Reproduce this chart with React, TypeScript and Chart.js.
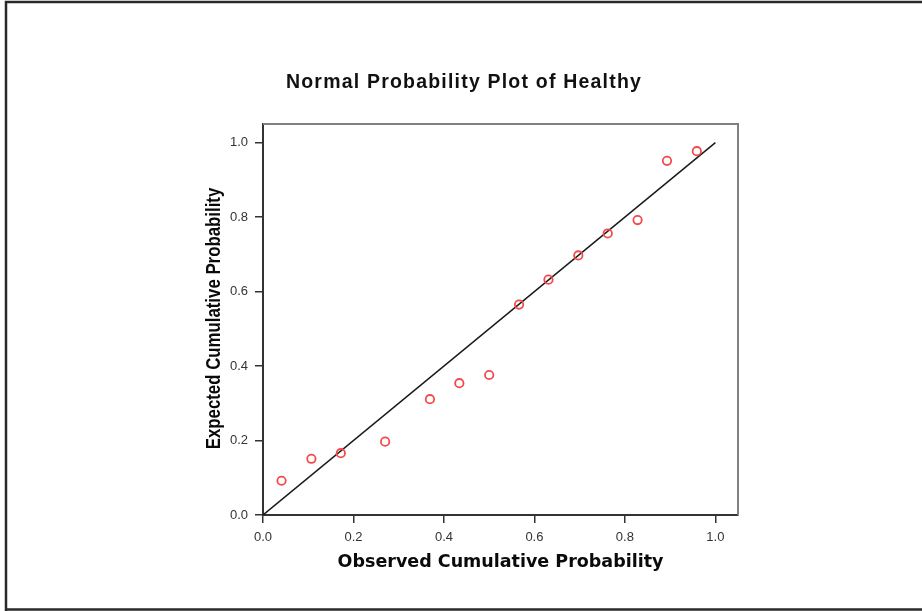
import { useEffect, useRef } from "react";
import { Chart, registerables } from "chart.js";

Chart.register(...registerables);

// Text
const chartTitle = "Normal Probability Plot of Healthy";
const xAxisTitle = "Observed Cumulative Probability";
const yAxisTitle = "Expected Cumulative Probability";

// Observed vs expected cumulative probabilities
const observedProb = [0.041, 0.107, 0.172, 0.27, 0.369, 0.434, 0.5, 0.566, 0.631, 0.697, 0.762, 0.828, 0.893, 0.959];
const expectedProb = [0.092, 0.151, 0.166, 0.197, 0.311, 0.354, 0.376, 0.565, 0.632, 0.697, 0.756, 0.792, 0.951, 0.977];

// Diagonal reference line
const refLineX = [0, 1];
const refLineY = [0, 1];

// Axis settings
const axisMin = 0;
const axisMax = 1.05;
const tickStep = 0.2;

const W = 922;
const H = 611;

const framePlugin = {
  id: "frameAndTitle",
  beforeDraw(chart: any) {
    const ctx = chart.ctx;
    ctx.save();
    ctx.fillStyle = "#ffffff";
    ctx.fillRect(0, 0, chart.width, chart.height);
    ctx.restore();
  },
  afterDraw(chart: any) {
    const { ctx, chartArea: a } = chart;
    ctx.save();
    // outer border (left, top, bottom)
    ctx.strokeStyle = "#2a2a2a";
    ctx.lineWidth = 2.5;
    ctx.beginPath();
    ctx.moveTo(6, H);
    ctx.lineTo(6, 2);
    ctx.lineTo(W, 2);
    ctx.moveTo(6, 609.5);
    ctx.lineTo(W, 609.5);
    ctx.stroke();
    // top and right edges of the plot frame
    ctx.strokeStyle = "#808080";
    ctx.lineWidth = 2;
    ctx.beginPath();
    ctx.moveTo(a.left, a.top);
    ctx.lineTo(a.right, a.top);
    ctx.lineTo(a.right, a.bottom);
    ctx.stroke();
    // chart title
    ctx.font = 'bold 19.5px "Liberation Sans", Arial, sans-serif';
    (ctx as any).letterSpacing = "1.2px";
    ctx.textAlign = "center";
    ctx.textBaseline = "alphabetic";
    ctx.fillStyle = "#111111";
    ctx.fillText(chartTitle, chart.width / 2 + 3, 88);
    ctx.restore();

    // vertical axis title, narrow bold face
    ctx.save();
    ctx.translate(220, (a.top + a.bottom) / 2 - 1);
    ctx.rotate(-Math.PI / 2);
    ctx.scale(0.82, 1);
    ctx.font = 'bold 20.5px "Liberation Sans", Arial, sans-serif';
    ctx.textAlign = "center";
    ctx.textBaseline = "alphabetic";
    ctx.fillStyle = "#0a0a0a";
    ctx.fillText(yAxisTitle, 0, 0);
    ctx.restore();
  },
};

export default function App() {
  const canvasRef = useRef<HTMLCanvasElement | null>(null);

  useEffect(() => {
    const canvas = canvasRef.current;
    if (!canvas) return;

    const points = observedProb.map((x, i) => ({ x, y: expectedProb[i] }));
    const line = refLineX.map((x, i) => ({ x, y: refLineY[i] }));

    const tickFont = { family: '"Liberation Sans", Arial, sans-serif', size: 13 };

    const chart = new Chart(canvas, {
      type: "scatter",
      data: {
        datasets: [
          {
            type: "line",
            data: line,
            borderColor: "#1a1a1a",
            borderWidth: 1.5,
            pointRadius: 0,
            fill: false,
            order: 2,
          } as any,
          {
            type: "scatter",
            data: points,
            pointStyle: "circle",
            pointRadius: 4.2,
            pointBorderWidth: 1.8,
            pointBorderColor: "#f24a4a",
            pointBackgroundColor: "rgba(0,0,0,0)",
            borderColor: "#f24a4a",
            backgroundColor: "rgba(0,0,0,0)",
            order: 1,
          } as any,
        ],
      },
      options: {
        responsive: false,
        animation: false,
        devicePixelRatio: 1,
        layout: { padding: { left: 195, right: 184, top: 124, bottom: 38 } },
        plugins: {
          legend: { display: false },
          title: { display: false },
          tooltip: { enabled: false },
        },
        scales: {
          x: {
            type: "linear",
            position: "bottom",
            min: axisMin,
            max: axisMax,
            ticks: {
              stepSize: tickStep,
              includeBounds: false,
              padding: 7,
              font: tickFont,
              color: "#333333",
              callback: (v: any) => Number(v).toFixed(1),
            },
            grid: { display: true, drawOnChartArea: false, drawTicks: true, tickLength: 8, color: "#333333", lineWidth: 1.5 },
            border: { display: true, color: "#333333", width: 2 },
            title: {
              display: true,
              text: xAxisTitle,
              color: "#0a0a0a",
              padding: 0,
              font: { family: '"DejaVu Sans", Verdana, sans-serif', size: 17.5, weight: "bold" },
            },
            afterFit: (s: any) => {
              s.height = 58;
            },
          },
          y: {
            type: "linear",
            position: "left",
            min: axisMin,
            max: axisMax,
            ticks: {
              stepSize: tickStep,
              includeBounds: false,
              padding: 7,
              font: tickFont,
              color: "#333333",
              callback: (v: any) => Number(v).toFixed(1),
            },
            grid: { display: true, drawOnChartArea: false, drawTicks: true, tickLength: 8, color: "#333333", lineWidth: 1.5 },
            border: { display: true, color: "#333333", width: 2 },
            title: { display: false },
            afterFit: (s: any) => {
              s.width = 68;
            },
          },
        },
      } as any,
      plugins: [framePlugin],
    });

    return () => chart.destroy();
  }, []);

  return (
    <div style={{ position: "absolute", left: 0, top: 0, width: W, height: H }}>
      <canvas ref={canvasRef} width={W} height={H} style={{ width: W, height: H, display: "block" }} />
    </div>
  );
}
